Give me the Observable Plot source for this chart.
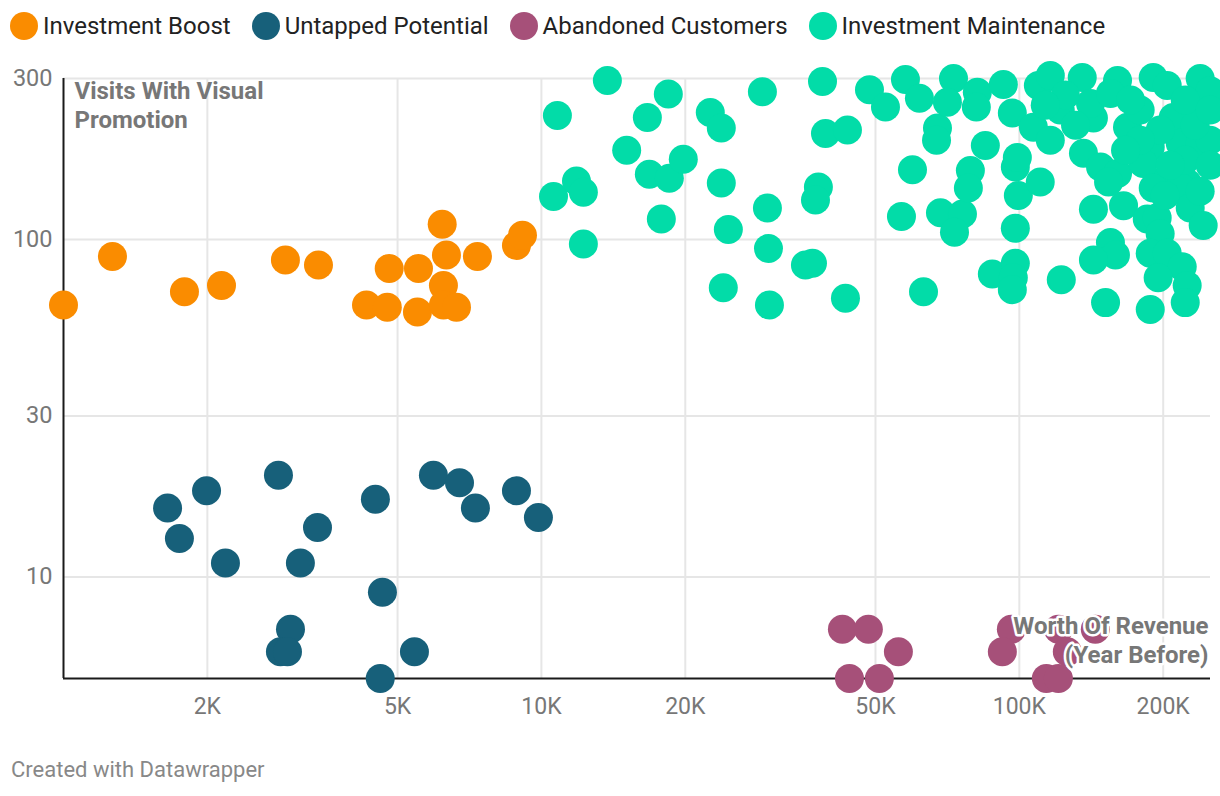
<!DOCTYPE html>
<html>
<head>
<meta charset="utf-8">
<script src="https://cdn.jsdelivr.net/npm/d3@7"></script>
<script src="https://cdn.jsdelivr.net/npm/@observablehq/plot@0.6"></script>
<style>
  html, body { margin: 0; padding: 0; background: white; }
  #wrap { position: relative; width: 1220px; height: 796px; font-family: Roboto, sans-serif; overflow: hidden; }
  #legend { position: absolute; left: 10px; top: 12px; display: flex; align-items: center; font-size: 24px; color: #222; white-space: nowrap; }
  .item { display: flex; align-items: center; margin-right: 21px; }
  .sw { width: 28px; height: 28px; border-radius: 50%; margin-right: 5px; }
  #chart { position: absolute; left: 0; top: 52px; }
  #footer { position: absolute; left: 11px; top: 757px; font-size: 22px; color: #888; }
</style>
</head>
<body>
<div id="wrap">
  <div id="legend"></div>
  <div id="chart"></div>
  <div id="footer">Created with Datawrapper</div>
</div>
<script>
const categories = ["Investment Boost", "Untapped Potential", "Abandoned Customers", "Investment Maintenance"];
const colors = ["#fa8c00", "#17607a", "#a65079", "#02dca8"];
const xTicks = [2000, 5000, 10000, 20000, 50000, 100000, 200000];
const xTickLabels = ["2K", "5K", "10K", "20K", "50K", "100K", "200K"];
const yTicks = [10, 30, 100, 300];
const yTickLabels = ["10", "30", "100", "300"];

const boostX = [1000, 1266, 1791, 2141, 2913, 3416, 4305, 4803, 4759, 5503, 5530, 6200, 6328, 6237, 6237, 6642, 7347, 8867, 9127];
const boostY = [64, 89, 70, 73, 87, 84, 64, 82, 63, 61, 82, 111, 90, 73, 64, 63, 89, 96, 103];

const untappedX = [1651, 1748, 1992, 2182, 2817, 3400, 3131, 2985, 2844, 2942, 4494, 4649, 4600, 5424, 5943, 6739, 7276, 8867, 9856];
const untappedY = [16, 13, 18, 11, 20, 14, 11, 7, 6, 6, 17, 9, 5, 6, 20, 19, 16, 18, 15];

const abandonedX = [42640, 48320, 55840, 44110, 50950, 96230, 92140, 120700, 144200, 126000, 113900, 120700];
const abandonedY = [7, 7, 6, 5, 5, 7, 6, 7, 7, 6, 5, 5];

const maintenanceX = [10600, 10800, 11840, 12240, 12240, 13740, 15080, 16660, 16820, 18430, 18520, 17820, 19810, 22560, 23790, 23790, 24610, 24020, 29000, 29710,
  29860, 30000, 35680, 36910, 37980, 37450, 38740, 39300, 43690, 43270, 48580, 52470, 57770, 61800, 56670, 59760, 63020, 67410, 67100, 68390,
  76030, 73170, 72820, 70720, 81680, 81280, 84890, 78990, 78230, 87800, 92590, 96680, 98090, 99520, 98090, 98090, 97150, 96680, 99040, 109600,
  116100, 135400, 160500, 190600, 203900, 239000, 107000, 116100, 121800, 142900, 140900, 155100, 136200, 147900, 160500, 168400, 179000, 187900, 209900, 217100,
  239000, 239000, 224500, 194300, 181600, 110600, 142900, 165200, 153700, 185200, 194300, 197100, 190600, 217100, 227800, 242500, 155100, 158900, 142900, 187900,
  203900, 219200, 195200, 224500, 222400, 187900, 151500, 122400, 250800, 250800, 197100, 222400, 170900,
  206900, 233300, 250800, 179000, 201900, 239000, 166800, 222400, 250800, 124800, 131100, 113300];
const maintenanceY = [134, 233, 149, 138, 97, 296, 184, 230, 156, 270, 152, 115, 173, 238, 214, 147, 107, 72, 274, 124,
  94, 64, 84, 85, 143, 131, 294, 206, 211, 67, 278, 247, 298, 262, 117, 161, 70, 214, 197, 120,
  119, 105, 300, 255, 273, 247, 190, 160, 142, 79, 288, 237, 164, 135, 108, 85, 77, 71, 175, 286,
  306, 302, 296, 302, 286, 300, 215, 197, 242, 229, 253, 271, 180, 164, 157, 215, 242, 188, 230, 193,
  253, 193, 147, 147, 168, 148, 123, 126, 148, 115, 116, 104, 142, 143, 124, 110, 98, 90, 87, 91,
  91, 83, 77, 73, 65, 62, 65, 76, 197, 276, 211, 172, 259,
  166, 218, 166, 197, 135, 139, 184, 259, 242, 268, 218, 250];

const series = [
  {name: categories[0], xs: boostX, ys: boostY},
  {name: categories[1], xs: untappedX, ys: untappedY},
  {name: categories[2], xs: abandonedX, ys: abandonedY},
  {name: categories[3], xs: maintenanceX, ys: maintenanceY}
];
const data = [];
series.forEach(s => s.xs.forEach((x, i) => data.push({cat: s.name, x, y: s.ys[i]})));

// legend
const legend = document.getElementById("legend");
categories.forEach((c, i) => {
  const it = document.createElement("div");
  it.className = "item";
  it.innerHTML = `<span class="sw" style="background:${colors[i]}"></span><span>${c}</span>`;
  legend.appendChild(it);
});

const xFmt = d => xTickLabels[xTicks.indexOf(d)];
const yFmt = d => yTickLabels[yTicks.indexOf(d)];

const chart = Plot.plot({
  width: 1220,
  height: 744,
  marginTop: 26,
  marginLeft: 63,
  marginRight: 10,
  marginBottom: 118,
  x: {type: "log", domain: [1000, 251189], label: null},
  y: {type: "log", domain: [5, 300], label: null},
  color: {domain: categories, range: colors},
  style: {fontFamily: "Roboto, sans-serif", background: "white"},
  marks: [
    Plot.gridX({ticks: xTicks, stroke: "#e6e6e6", strokeOpacity: 1, strokeWidth: 2}),
    Plot.gridY({ticks: yTicks, stroke: "#e6e6e6", strokeOpacity: 1, strokeWidth: 2}),
    Plot.axisX({ticks: xTicks, tickFormat: xFmt, tickSize: 0, tickPadding: 19, fontSize: 23, fill: "#777", label: null}),
    Plot.axisY({ticks: yTicks, tickFormat: yFmt, tickSize: 0, tickPadding: 11, fontSize: 23.5, fill: "#777", label: null}),
    Plot.ruleX([1000], {stroke: "#1a1a1a", strokeWidth: 2}),
    Plot.ruleY([5], {stroke: "#1a1a1a", strokeWidth: 2}),
    Plot.dot(data, {x: "x", y: "y", fill: "cat", r: 14.5, stroke: null}),
    Plot.text(["Visits With Visual\nPromotion"], {frameAnchor: "top-left", text: d => d, dx: 11, dy: 1, lineAnchor: "top", textAnchor: "start", fontWeight: "bold", fontSize: 24, fill: "#777", lineHeight: 1.17}),
    Plot.text(["Worth Of Revenue\n(Year Before)"], {frameAnchor: "bottom-right", text: d => d, dx: -2, dy: -16, lineAnchor: "bottom", textAnchor: "end", fontWeight: "bold", fontSize: 24, fill: "#777", stroke: "white", strokeWidth: 5, lineHeight: 1.17})
  ]
});
document.getElementById("chart").appendChild(chart);
</script>
</body>
</html>
